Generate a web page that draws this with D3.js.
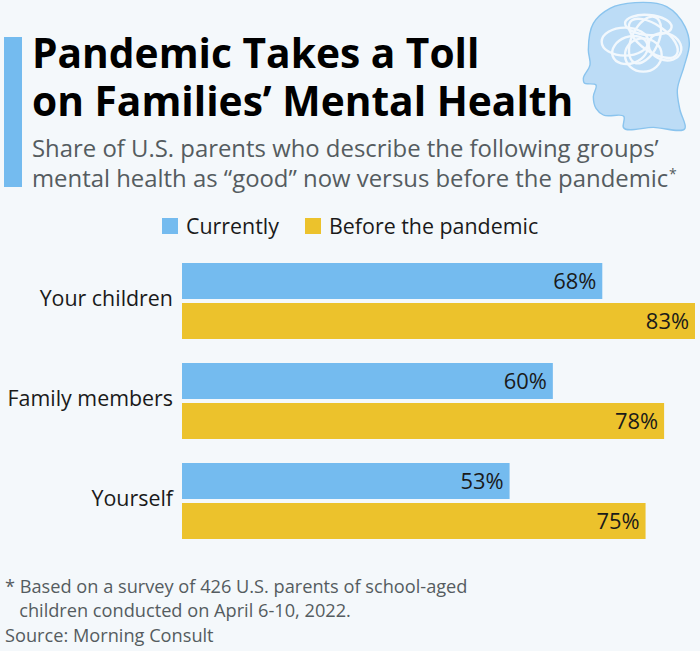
<!DOCTYPE html>
<html><head><meta charset="utf-8">
<script src="https://cdn.jsdelivr.net/npm/d3@7/dist/d3.min.js"></script>
<style>html,body{margin:0;padding:0;background:#f4f8fb}svg{display:block}text{font-family:"Open Sans",sans-serif}</style>
</head><body><svg id="c" width="700" height="651"></svg>
<script>
const categories = ["Your children","Family members","Yourself"];
const seriesNames = ["Currently","Before the pandemic"];
const currently = [68,60,53];
const before = [83,78,75];
const titleLines = ["Pandemic Takes a Toll","on Families’ Mental Health"];
const subtitleLines = ["Share of U.S. parents who describe the following groups’","mental health as “good” now versus before the pandemic"];
const footLines = ["* Based on a survey of 426 U.S. parents of school-aged","   children conducted on April 6-10, 2022.","Source: Morning Consult"];
const BLUE="#74bbef", GOLD="#ecc22c";
const svg=d3.select("#c");
svg.append("rect").attr("width",700).attr("height",651).attr("fill","#f4f8fb");
svg.append("rect").attr("x",4).attr("y",37).attr("width",18).attr("height",150).attr("fill",BLUE);

// head icon (traced on a 390px crop placed at x=570)
const head=[[195,8],[290,20],[345,80],[358,130],[342,200],[322,270],[330,330],[345,385],[250,382],[160,382],[162,350],[100,345],[78,325],[70,290],[78,255],[42,248],[40,235],[60,195],[55,150],[70,70],[120,25]].map(p=>[570+p[0]/3,p[1]/3]);
const g=svg.append("g");
g.append("path").attr("d",d3.line().curve(d3.curveCatmullRomClosed.alpha(.8))(head)).attr("fill","#bcdcf6").attr("stroke","#8ac4ee").attr("stroke-width",1.4);
const loops=[[165,125,70,42,0],[235,75,70,30,5],[225,120,40,75,25],[285,140,50,40,20],[220,165,55,50,0],[250,115,85,40,35],[180,150,55,40,-20]];
loops.forEach(l=>{const cx=570+l[0]/3,cy=l[1]/3;g.append("ellipse").attr("cx",cx).attr("cy",cy).attr("rx",l[2]/3).attr("ry",l[3]/3).attr("transform",`rotate(${l[4]} ${cx} ${cy})`).attr("fill","none").attr("stroke","#f2f8fd").attr("stroke-width",2.4)});

titleLines.forEach((t,i)=>svg.append("text").attr("x",32).attr("y",[68,116][i]).attr("font-size",40.7).attr("font-weight",700).attr("fill","#000").text(t));
subtitleLines.forEach((t,i)=>svg.append("text").attr("x",32).attr("y",[157,187][i]).attr("font-size",23.9).attr("fill","#555c60").text(t));
svg.append("text").attr("x",669).attr("y",179).attr("font-size",14).attr("fill","#555c60").text("*");

// legend
[[162,186,BLUE],[305,329,GOLD]].forEach((l,i)=>{
 svg.append("rect").attr("x",l[0]).attr("y",218).attr("width",16).attr("height",16).attr("fill",l[2]);
 svg.append("text").attr("x",l[1]).attr("y",234).attr("font-size",21.4).attr("fill","#1a1a1a").text(seriesNames[i]);
});

const x=d3.scaleLinear().domain([0,83]).range([182,695]);
const y=d3.scaleBand().domain(categories).range([263,563]);
const inner=d3.scaleBand().domain([0,1]).range([0,76]).paddingInner(0.1);
const groups=svg.selectAll("g.row").data(categories).join("g").attr("class","row").attr("transform",d=>`translate(0,${y(d)})`);
[currently,before].forEach((vals,s)=>{
 groups.append("rect").attr("x",x(0)).attr("y",inner(s)).attr("width",(d,i)=>x(vals[i])-x(0)).attr("height",inner.bandwidth()).attr("fill",s?GOLD:BLUE);
 groups.append("text").attr("x",(d,i)=>x(vals[i])-6).attr("y",inner(s)+inner.bandwidth()/2+7.5).attr("text-anchor","end").attr("font-size",21.9).attr("fill","#1a1a1a").text((d,i)=>vals[i]+"%");
});
groups.append("text").attr("x",173).attr("y",43).attr("text-anchor","end").attr("font-size",21.4).attr("fill","#1a1a1a").text(d=>d);

footLines.forEach((t,i)=>svg.append("text").attr("x",5).attr("y",[593,617,642][i]).attr("font-size",18.2).attr("fill","#555c60").style("white-space","pre").text(t));
</script></body></html>
